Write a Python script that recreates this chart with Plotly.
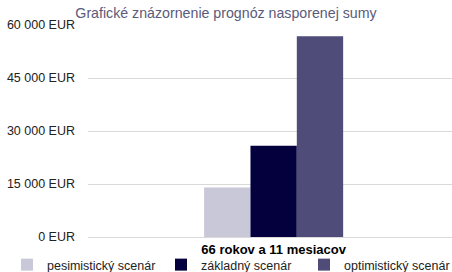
import plotly.graph_objects as go

categories = ["66 rokov a 11 mesiacov"]
series_names = ["pesimistický scenár", "základný scenár", "optimistický scenár"]
series_values = [[14000], [25800], [56800]]
series_colors = ["#c8c8d8", "#03003d", "#4f4c79"]
tick_vals = [0, 15000, 30000, 45000, 60000]
tick_text = ["0 EUR", "15 000 EUR", "30 000 EUR", "45 000 EUR", "60 000 EUR"]
title_text = "Grafické znázornenie prognóz nasporenej sumy"

W, H = 452, 272
font = "Liberation Sans, Arial, Helvetica, sans-serif"
legend_ids = ["legend", "legend2", "legend3"]
legend_text_px = [49, 203, 346]   # where each legend label starts

fig = go.Figure()
for name, vals, col, lid in zip(series_names, series_values, series_colors, legend_ids):
    fig.add_trace(go.Bar(x=categories, y=vals, name=name, marker_color=col,
                         marker_line_width=0, legend=lid))

legend_common = dict(orientation="h", xref="container", xanchor="left",
                     y=(H - 250) / H, yref="container", yanchor="top",
                     font=dict(family=font, size=12.5, color="#222"),
                     itemwidth=30, bgcolor="rgba(0,0,0,0)")
layout_legends = {}
for lid, tx in zip(legend_ids, legend_text_px):
    layout_legends[lid] = dict(legend_common, x=(tx - 42) / W)

fig.update_layout(
    width=W, height=H,
    margin=dict(l=88, r=0, t=25, b=35, pad=0, autoexpand=False),
    paper_bgcolor="white", plot_bgcolor="white",
    barmode="group", bargap=0.618, bargroupgap=0,
    font=dict(family=font, size=12, color="#222"),
    title=dict(text=title_text, x=0.5, xanchor="center", xref="container",
               y=1 - 8 / H, yref="container", yanchor="top", pad=dict(t=0),
               font=dict(family=font, size=14.2, color="#5a5a7a")),
    showlegend=True,
    **layout_legends,
)
fig.update_yaxes(range=[0, 60000], tickvals=tick_vals, ticktext=tick_text,
                 showgrid=True, gridcolor="#d9d9d9", gridwidth=1,
                 zeroline=False, showline=False, ticks="", automargin=False,
                 ticklabelstandoff=12,
                 tickfont=dict(family=font, size=12.5, color="#222"))
fig.update_xaxes(range=[-0.51, 0.49], showgrid=False, showline=True,
                 linecolor="#d9d9d9", ticks="", automargin=False,
                 ticklabelstandoff=0,
                 tickfont=dict(family=font, size=13, color="#000", weight="bold"))
fig.write_html("out.html", config={"displayModeBar": False},
               post_script="document.body.style.margin='0';")
